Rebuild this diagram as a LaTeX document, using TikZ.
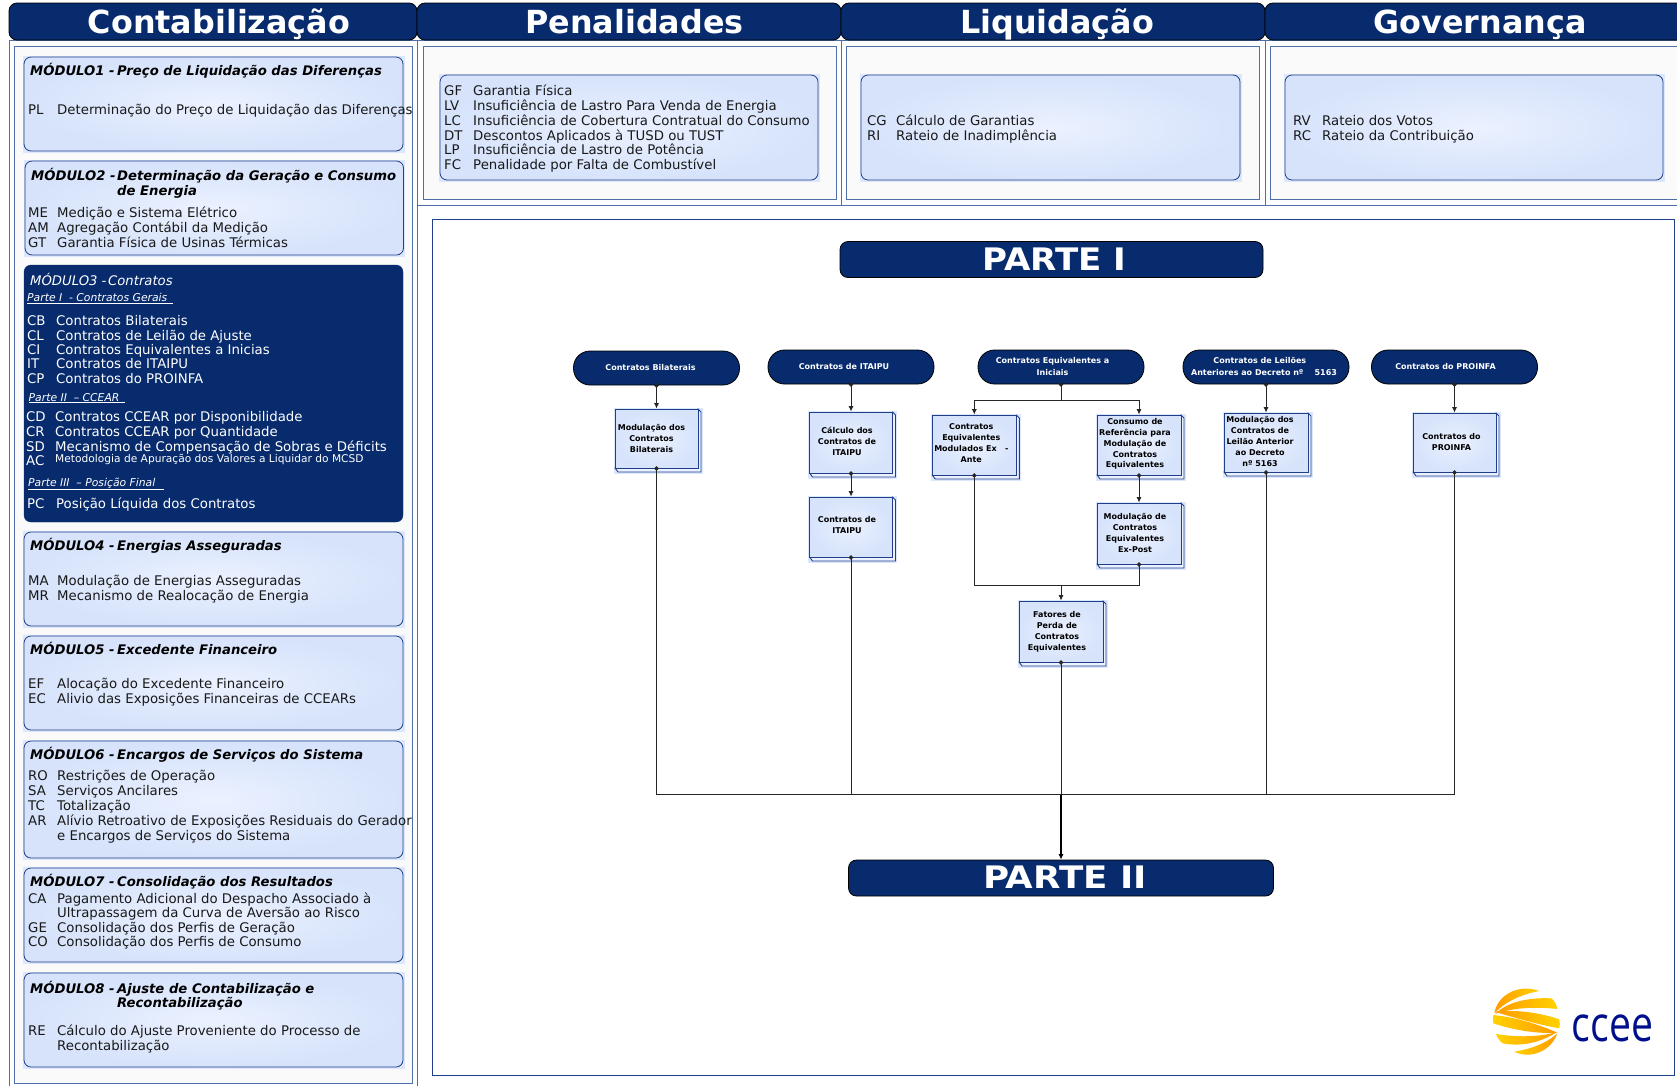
\documentclass[tikz,border=0pt]{standalone}
\usepackage{fontspec}
\setmainfont{DejaVu Sans}
\newfontfamily\logofont{Open Sans}
\usetikzlibrary{arrows.meta}
\definecolor{navy}{HTML}{072B6D}
\definecolor{frameblue}{HTML}{4F6FA8}
\definecolor{linkblue}{HTML}{1F3F8A}
\definecolor{haloblue}{HTML}{DDE7FC}
\definecolor{paleout}{HTML}{D6E3FB}
\definecolor{palein}{HTML}{EBF1FF}
\definecolor{panelbg}{HTML}{FAFAFA}
\definecolor{logoy}{HTML}{FFD200}
\definecolor{logoo}{HTML}{FF9A00}
\definecolor{logob}{HTML}{00108C}
% zero-size content shifted by dx (right) and dy (up) from the node centre
\newcommand\shifted[3]{\makebox[0pt][c]{\kern\dimexpr 2\dimexpr#1pt\relax\relax\smash{\raisebox{#2pt}{#3}}}}
\newcommand\rows[2]{\fontsize{#1}{10.9}\selectfont\begin{tabular}{@{}c@{}}#2\end{tabular}}
\newcommand\pillrows[2]{\fontsize{#1}{11.7}\selectfont\begin{tabular}{@{}c@{}}#2\end{tabular}}
\tikzset{
  hdr/.style={draw=black,line width=.8pt,fill=navy,rounded corners=8pt,text=white,font=\fontsize{31.8}{32}\selectfont\bfseries,inner sep=0pt,minimum height=37pt},
  parte/.style={draw=black,line width=.8pt,fill=navy,rounded corners=8pt,text=white,font=\fontsize{31}{31}\selectfont\bfseries,inner sep=0pt,minimum height=36pt},
  pill/.style={draw=black,line width=.8pt,fill=navy,rounded corners=16.5pt,text=white,font=\bfseries,inner sep=0pt,minimum width=166pt,minimum height=34pt},
  proc/.style={draw=linkblue,line width=1pt,inner sep=0pt,inner color=palein,outer color=paleout,text=black,font=\bfseries},
  modbox/.style={draw=linkblue,line width=.8pt,rounded corners=7pt,inner sep=0pt,inner color=palein,outer color=paleout},
  modfilled/.style={draw=navy,fill=navy,rounded corners=7pt,inner sep=0pt},
  halo/.style={fill=haloblue,draw=none},
  outerp/.style={draw=frameblue,line width=.8pt,fill=white},
  innerp/.style={draw=frameblue,line width=1pt,fill=panelbg},
  mainp/.style={draw=linkblue,line width=.8pt,fill=white},
  bodyt/.style={anchor=base west,inner sep=0pt,text=black!90,font=\fontsize{13.3}{14}\selectfont},
  titlet/.style={anchor=base west,inner sep=0pt,text=black,font=\fontsize{13.2}{14}\selectfont\bfseries\itshape},
  partet/.style={anchor=base west,inner sep=0pt,text=white,font=\fontsize{10.8}{12}\selectfont\itshape},
  wire/.style={draw=black!85,line width=.9pt},
  feed/.style={wire,{Circle[length=4.4pt]}-{Latex[length=5.5pt,width=5.2pt]},shorten <=-2.2pt},
  bus/.style={wire,{Circle[length=4.4pt]}-,shorten <=-2.2pt},
  arr/.style={wire,-{Latex[length=5.5pt,width=5.2pt]}},
  logoshape/.style={draw=none,left color=logoo,middle color=logoy,right color=logoy},
  logoshaper/.style={draw=none,left color=logoy,middle color=logoy,right color=logoo},
}
% name, x of code, baseline y, code, text
\newcommand\mline[5]{\node[bodyt] (#1) at (#2,#3) {\makebox[29pt][l]{#4}#5};}
% name, x, baseline, head, tail
\newcommand\mtitle[5]{\node[titlet] (#1) at (#2,#3) {\makebox[\dimexpr 117pt-#2pt\relax][l]{#4}#5};}
% halo + module box: name, x1, x2, top, bottom
\newcommand\modrect[5]{%
  \fill[halo] (#2-1.5,#4-1.5) rectangle (#3+1.5,#5+1.5);
  \node[modbox,minimum width=#3pt-#2pt,minimum height=#5pt-#4pt] (#1) at ({(#2+#3)/2},{(#4+#5)/2}) {};}
% process box: name, cx, top, bottom, width, dx, dy, font size, rows
\newcommand\procbox[9]{%
  \fill[halo] (#2-#5/2-1.5,#3-1.5) rectangle (#2+#5/2+4.5,#4+5.5);
  \filldraw[linkblue,line width=.9pt,fill=palein] (#2-#5/2,#4) -- (#2-#5/2+3,#4+4) -- (#2+#5/2+3,#4+4) -- (#2+#5/2+3,#3+3) -- (#2+#5/2,#3) -- cycle;
  \node[proc,minimum width=#5pt,minimum height=#4pt-#3pt] (#1) at (#2,{(#3+#4)/2}) {\shifted{#6}{#7}{\rows{#8}{#9}}};}
\newcommand\pillnode[5]{\node[pill] (#1) at (#2,#3) {\shifted{#4}{-2}{\pillrows{8}{#5}}};}
\begin{document}
\begin{tikzpicture}[x=1pt,y=-1pt]
\useasboundingbox (0,0) rectangle (1677,1085);
\fill[white] (0,0) rectangle (1677,1085);

%% outer panels
\draw[outerp] (9,40) rectangle (417,1095);
\draw[outerp] (417,40) rectangle (841,205);
\draw[outerp] (841,40) rectangle (1265,205);
\draw[outerp] (1265,40) rectangle (1700,205);
\draw[outerp] (417,205) rectangle (1700,1095);
%% inner panels
\draw[innerp] (14.5,46) rectangle (412,1083);
\draw[innerp] (423,46) rectangle (836,199.5);
\draw[innerp] (846,46) rectangle (1259,199.5);
\draw[innerp] (1270,46) rectangle (1700,199.5);
\draw[mainp] (432,219) rectangle (1674,1075);

%% headers
\node[hdr,minimum width=408pt] (hcont) at (213,21.5) {\shifted{6}{-11.5}{Contabilização}};
\node[hdr,minimum width=424pt] (hpen) at (629,21.5) {\shifted{5.5}{-11.5}{Penalidades}};
\node[hdr,minimum width=424pt] (hliq) at (1053,21.5) {\shifted{4}{-11.5}{Liquidação}};
\node[hdr,minimum width=424pt] (hgov) at (1477,21.5) {\shifted{3}{-11.5}{Governança}};

%% module boxes
\modrect{m1}{24}{403}{57}{151}
\modrect{m2}{25}{403.5}{161}{255}
\node[modfilled,minimum width=379pt,minimum height=257pt] (m3) at (213.5,393.5) {};
\modrect{m4}{24}{403}{532}{626}
\modrect{m5}{24}{403}{636}{730}
\modrect{m6}{24}{403}{741}{858}
\modrect{m7}{24}{403}{868}{962}
\modrect{m8}{24}{403}{973}{1067}
\modrect{mpen}{440}{818}{75}{180}
\modrect{mliq}{861}{1240}{75}{180}
\modrect{mgov}{1285}{1663}{75}{180}

%% module 1
\mtitle{t1}{30}{75}{MÓDULO1 -}{Preço de Liquidação das Diferenças}
\mline{PL}{28}{114}{PL}{Determinação do Preço de Liquidação das Diferenças}
%% module 2
\mtitle{t2}{31}{180}{MÓDULO2 -}{Determinação da Geração e Consumo}
\mtitle{t2b}{31}{195}{}{de Energia}
\mline{ME}{28}{217}{ME}{Medição e Sistema Elétrico}
\mline{AM}{28}{232}{AM}{Agregação Contábil da Medição}
\mline{GT}{28}{247}{GT}{Garantia Física de Usinas Térmicas}
%% module 3
\begin{scope}[bodyt/.append style={text=white}]
\node[titlet,text=white,font=\fontsize{13.2}{14}\selectfont\itshape] (t3) at (30,285) {\makebox[78pt][l]{MÓDULO3 -}Contratos};
\node[partet] (p1) at (27,301.7) {\underline{\makebox[146pt][l]{Parte I\ \ - Contratos Gerais}}};
\mline{CB}{27}{325}{CB}{Contratos Bilaterais}
\mline{CL}{27}{340}{CL}{Contratos de Leilão de Ajuste}
\mline{CI}{27}{354}{CI}{Contratos Equivalentes a Inicias}
\mline{IT}{27}{368.7}{IT}{Contratos de ITAIPU}
\mline{CP}{27}{383}{CP}{Contratos do PROINFA}
\node[partet] (p2) at (28.5,401) {\underline{\makebox[96.5pt][l]{Parte II\ \ – CCEAR}}};
\mline{CD}{26}{421.7}{CD}{Contratos CCEAR por Disponibilidade}
\mline{CR}{26}{436.7}{CR}{Contratos CCEAR por Quantidade}
\mline{SD}{26}{451.7}{SD}{Mecanismo de Compensação de Sobras e Déficits}
\node[bodyt] (AC) at (26,465) {AC};
\node[bodyt,font=\fontsize{10.65}{12}\selectfont] (ACt) at (55,462) {Metodologia de Apuração dos Valores a Liquidar do MCSD};
\node[partet] (p3) at (28,486) {\underline{\makebox[136pt][l]{Parte III\ \ – Posição Final}}};
\mline{PC}{27}{508}{PC}{Posição Líquida dos Contratos}
\end{scope}
%% module 4
\mtitle{t4}{30}{550}{MÓDULO4 -}{Energias Asseguradas}
\mline{MA}{28}{585}{MA}{Modulação de Energias Asseguradas}
\mline{MR}{28}{600}{MR}{Mecanismo de Realocação de Energia}
%% module 5
\mtitle{t5}{30}{654.5}{MÓDULO5 -}{Excedente Financeiro}
\mline{EF}{28}{688}{EF}{Alocação do Excedente Financeiro}
\mline{EC}{28}{703}{EC}{Alivio das Exposições Financeiras de CCEARs}
%% module 6
\mtitle{t6}{30}{759}{MÓDULO6 -}{Encargos de Serviços do Sistema}
\mline{RO}{28}{780.7}{RO}{Restrições de Operação}
\mline{SA}{28}{795}{SA}{Serviços Ancilares}
\mline{TC}{28}{810}{TC}{Totalização}
\mline{AR}{28}{825}{AR}{Alívio Retroativo de Exposições Residuais do Gerador}
\mline{ARb}{28}{840}{}{e Encargos de Serviços do Sistema}
%% module 7
\mtitle{t7}{30}{886.7}{MÓDULO7 -}{Consolidação dos Resultados}
\mline{CA}{28}{903}{CA}{Pagamento Adicional do Despacho Associado à}
\mline{CAb}{28}{917}{}{Ultrapassagem da Curva de Aversão ao Risco}
\mline{GE}{28}{932}{GE}{Consolidação dos Perfis de Geração}
\mline{CO}{28}{946}{CO}{Consolidação dos Perfis de Consumo}
%% module 8
\mtitle{t8}{30}{993}{MÓDULO8 -}{Ajuste de Contabilização e}
\mtitle{t8b}{30}{1007}{}{Recontabilização}
\mline{RE}{28}{1035}{RE}{Cálculo do Ajuste Proveniente do Processo de}
\mline{REb}{28}{1050}{}{Recontabilização}
%% penalidades
\mline{GF}{444}{95}{GF}{Garantia Física}
\mline{LV}{444}{110}{LV}{Insuficiência de Lastro Para Venda de Energia}
\mline{LC}{444}{125}{LC}{Insuficiência de Cobertura Contratual do Consumo}
\mline{DT}{444}{140}{DT}{Descontos Aplicados à TUSD ou TUST}
\mline{LP}{444}{154}{LP}{Insuficiência de Lastro de Potência}
\mline{FC}{444}{169}{FC}{Penalidade por Falta de Combustível}
%% liquidacao
\mline{CG}{867}{125.5}{CG}{Cálculo de Garantias}
\mline{RI}{867}{140.5}{RI}{Rateio de Inadimplência}
%% governanca
\mline{RV}{1293}{125.5}{RV}{Rateio dos Votos}
\mline{RC}{1293}{140.5}{RC}{Rateio da Contribuição}

%% parte nodes
\node[parte,minimum width=423pt] (parteI) at (1051.5,259.5) {\shifted{3}{-10.5}{\scalebox{1.1}[1]{PARTE I}}};
\node[parte,minimum width=425pt] (parteII) at (1061,878) {\shifted{4}{-10}{\scalebox{1.15}[1]{PARTE II}}};

%% pills
\pillnode{pBil}{656.5}{368}{-6}{Contratos Bilaterais}
\pillnode{pIta}{851}{367}{-7}{Contratos de ITAIPU}
\pillnode{pEqu}{1061}{367}{-8.5}{Contratos Equivalentes a\\Iniciais}
\pillnode{pLei}{1266}{367}{-2}{Contratos de Leilões\ \ \ \ \\Anteriores ao Decreto nº\ \ \ \ 5163}
\pillnode{pPro}{1454.5}{367}{-9}{Contratos do PROINFA}

%% process boxes
\procbox{bBil}{656.5}{409}{468}{83}{-5}{-3}{8}{Modulação dos\\Contratos\\Bilaterais}
\procbox{bCal}{851}{412}{473}{83}{-4}{-2}{8}{Cálculo dos\\Contratos de\\ITAIPU}
\procbox{bIta}{851}{497}{557}{83}{-4}{-1}{8}{Contratos de\\ITAIPU}
\procbox{bMod}{974.3}{415}{475}{84}{-3}{-1}{8}{Contratos\\Equivalentes\\Modulados Ex\ \ \ -\\Ante}
\procbox{bCon}{1139}{415}{475}{84}{-4}{-1}{8}{Consumo de\\Referência para\\Modulação de\\Contratos\\Equivalentes}
\procbox{bExp}{1139}{503}{564}{84}{-4}{-2}{8}{Modulação de\\Contratos\\Equivalentes\\Ex-Post}
\procbox{bFat}{1061}{601}{662}{84}{-4}{-2}{8}{Fatores de\\Perda de\\Contratos\\Equivalentes}
\procbox{bLei}{1266}{413}{472}{84}{-6}{-2}{8}{Modulação dos\\Contratos de\\Leilão Anterior\\ao Decreto\\nº 5163}
\procbox{bPro}{1454.5}{413}{472}{83}{-3}{-2}{8}{Contratos do\\PROINFA}

%% connectors
\coordinate (split) at (1061,400.5);
\coordinate (merge) at (1061,585);
\coordinate (busc) at (1061,794.6);
\draw[feed] (pBil.south) -- (bBil.north);
\draw[feed] (pIta.south) -- (bCal.north);
\draw[feed] (bCal.south) -- (bIta.north);
\draw[bus] (pEqu.south) -- (split);
\draw[arr] (split) -| (bMod.north);
\draw[arr] (split) -| (bCon.north);
\draw[feed] (bCon.south) -- (bExp.north);
\draw[bus] (bMod.south) |- (merge);
\draw[bus] (bExp.south) |- (merge);
\draw[arr] (merge) -- (bFat.north);
\draw[feed] (pLei.south) -- (bLei.north);
\draw[feed] (pPro.south) -- (bPro.north);
\draw[bus] (bBil.south) |- (busc);
\draw[bus] (bIta.south) |- (busc);
\draw[bus] (bFat.south) -- (busc);
\draw[bus] (bLei.south) |- (busc);
\draw[bus] (bPro.south) |- (busc);
\draw[arr,draw=black,line width=1.2pt] (busc) -- (parteII.north);

%% logo
\begin{scope}[shift={(1440,960)},x=.3333pt,y=-.3333pt]
\shade[logoshape] (163,160) .. controls (172,105) and (235,70) .. (298,93) .. controls (245,103) and (195,125) .. (163,160) -- cycle;
\shade[logoshape] (165,162) .. controls (205,122) and (275,112) .. (335,115) .. controls (345,125) and (350,135) .. (352,147) .. controls (290,140) and (220,142) .. (165,162) -- cycle;
\shade[logoshape] (163,155) .. controls (230,148) and (300,158) .. (358,178) .. controls (360,187) and (360,197) .. (358,205) .. controls (300,195) and (230,175) .. (163,155) -- cycle;
\shade[logoshaper] (160,165) .. controls (230,172) and (300,195) .. (352,218) .. controls (290,222) and (220,210) .. (160,190) .. controls (158,182) and (158,172) .. (160,165) -- cycle;
\shade[logoshaper] (168,222) .. controls (230,232) and (300,232) .. (352,215) .. controls (300,250) and (240,260) .. (188,250) .. controls (178,242) and (172,232) .. (168,222) -- cycle;
\shade[logoshaper] (222,275) .. controls (270,268) and (320,250) .. (352,220) .. controls (335,270) and (275,300) .. (222,275) -- cycle;
\end{scope}
\node[inner sep=0pt,anchor=base,xscale=.8,text=logob,font=\logofont\fontsize{49}{49}\selectfont] (ccee) at (1612.5,1041) {ccee};
\end{tikzpicture}
\end{document}
